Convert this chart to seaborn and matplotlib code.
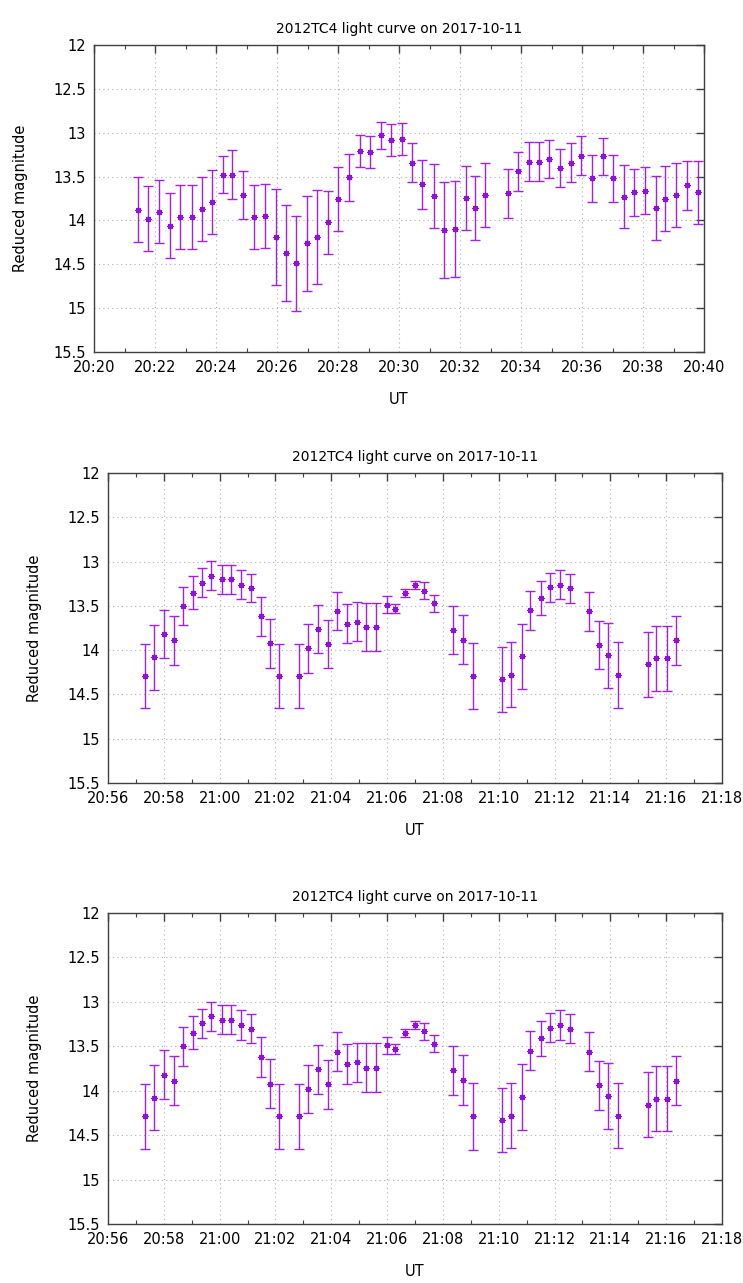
import numpy as np
import pandas as pd
import matplotlib
matplotlib.use("Agg")
import matplotlib.pyplot as plt
import matplotlib.dates as mdates
import seaborn as sns

DATE = "2017-10-11"
TITLE = "2012TC4 light curve on 2017-10-11"
XLABEL = "UT"
YLABEL = "Reduced magnitude"

# ---- Panel 1 data (20:20 - 20:40) ----
times1 = ["20:21:26", "20:21:47", "20:22:08", "20:22:29", "20:22:50", "20:23:12", "20:23:32",
          "20:23:53", "20:24:13", "20:24:32", "20:24:54", "20:25:15", "20:25:36", "20:25:58",
          "20:26:17", "20:26:38", "20:26:59", "20:27:19", "20:27:40", "20:28:00", "20:28:22",
          "20:28:43", "20:29:02", "20:29:24", "20:29:44", "20:30:05", "20:30:26", "20:30:45",
          "20:31:08", "20:31:29", "20:31:50", "20:32:11", "20:32:30", "20:32:50", "20:33:34",
          "20:33:55", "20:34:15", "20:34:36", "20:34:56", "20:35:17", "20:35:39", "20:35:58",
          "20:36:20", "20:36:41", "20:37:01", "20:37:23", "20:37:43", "20:38:04", "20:38:25",
          "20:38:44", "20:39:05", "20:39:26", "20:39:48"]
mag1 = [13.88, 13.98, 13.90, 14.06, 13.96, 13.96, 13.87, 13.79, 13.48, 13.48, 13.71, 13.96,
        13.95, 14.19, 14.37, 14.49, 14.26, 14.19, 14.02, 13.76, 13.51, 13.21, 13.22, 13.03,
        13.08, 13.07, 13.34, 13.59, 13.72, 14.11, 14.10, 13.74, 13.86, 13.71, 13.69, 13.44,
        13.33, 13.33, 13.30, 13.40, 13.34, 13.26, 13.52, 13.27, 13.52, 13.73, 13.68, 13.66,
        13.86, 13.75, 13.71, 13.60, 13.68]
err1 = [0.37, 0.37, 0.36, 0.37, 0.365, 0.365, 0.36, 0.37, 0.21, 0.28, 0.27, 0.365, 0.365,
        0.55, 0.55, 0.54, 0.54, 0.54, 0.36, 0.365, 0.27, 0.18, 0.18, 0.155, 0.18, 0.185,
        0.22, 0.28, 0.365, 0.545, 0.545, 0.365, 0.365, 0.365, 0.28, 0.22, 0.22, 0.22, 0.22,
        0.22, 0.22, 0.22, 0.27, 0.21, 0.27, 0.36, 0.27, 0.27, 0.365, 0.365, 0.365, 0.28, 0.36]
xlim1 = ("20:20:00", "20:40:00")

# ---- Panel 2/3 data (20:56 - 21:18) ----
times2 = ["20:57:19", "20:57:39", "20:58:01", "20:58:21", "20:58:42", "20:59:03", "20:59:22",
          "20:59:42", "21:00:05", "21:00:25", "21:00:46", "21:01:07", "21:01:28", "21:01:48",
          "21:02:08", "21:02:50", "21:03:11", "21:03:32", "21:03:53", "21:04:13", "21:04:34",
          "21:04:55", "21:05:14", "21:05:36", "21:05:59", "21:06:18", "21:06:39", "21:06:59",
          "21:07:20", "21:07:41", "21:08:22", "21:08:43", "21:09:04", "21:10:07", "21:10:27",
          "21:10:49", "21:11:08", "21:11:31", "21:11:50", "21:12:11", "21:12:34", "21:13:15",
          "21:13:35", "21:13:55", "21:14:17", "21:15:20", "21:15:39", "21:16:01", "21:16:22"]
mag2 = [14.29, 14.08, 13.82, 13.89, 13.50, 13.35, 13.24, 13.16, 13.20, 13.20, 13.26, 13.30,
        13.62, 13.92, 14.29, 14.29, 13.98, 13.76, 13.93, 13.56, 13.70, 13.68, 13.74, 13.74,
        13.49, 13.53, 13.35, 13.26, 13.33, 13.47, 13.77, 13.88, 14.29, 14.33, 14.28, 14.07,
        13.55, 13.41, 13.29, 13.26, 13.30, 13.56, 13.94, 14.06, 14.28, 14.16, 14.09, 14.09,
        13.89]
err2 = [0.365, 0.367, 0.274, 0.276, 0.218, 0.186, 0.162, 0.164, 0.162, 0.162, 0.164, 0.162,
        0.222, 0.276, 0.363, 0.365, 0.274, 0.274, 0.274, 0.218, 0.224, 0.218, 0.274, 0.274,
        0.096, 0.055, 0.045, 0.045, 0.096, 0.098, 0.274, 0.278, 0.372, 0.365, 0.367, 0.367,
        0.218, 0.196, 0.162, 0.165, 0.164, 0.22, 0.274, 0.367, 0.37, 0.365, 0.367, 0.367,
        0.276]
xlim2 = ("20:56:00", "21:18:00")

ylim = (12.0, 15.5)
yticks = [12, 12.5, 13, 13.5, 14, 14.5, 15, 15.5]
ytick_labels = ["12", "12.5", "13", "13.5", "14", "14.5", "15", "15.5"]

COLOR = "#a020f0"

sns.set_theme(style="white")
plt.rcParams["font.family"] = ["DejaVu Sans"]

W, H = 743, 1283
fig = plt.figure(figsize=(W / 100, H / 100), dpi=100)

def frac(l, r, t, b):
    return [l / W, 1 - b / H, (r - l) / W, (b - t) / H]

panels = [
    (times1, mag1, err1, xlim1, frac(94, 704, 45, 352)),
    (times2, mag2, err2, xlim2, frac(108, 722, 473, 783)),
    (times2, mag2, err2, xlim2, frac(108, 722, 913, 1224)),
]

def to_dt(ts):
    return pd.to_datetime([f"{DATE} {t}" for t in ts])

for times, mags, errs, xlim, rect in panels:
    ax = fig.add_axes(rect)
    df = pd.DataFrame({"t": to_dt(times), "mag": mags, "err": errs})
    ax.errorbar(df["t"], df["mag"], yerr=df["err"], fmt="none", ecolor=COLOR,
                elinewidth=1.0, capsize=3.3, capthick=1.0, zorder=3)
    sns.scatterplot(data=df, x="t", y="mag", ax=ax, marker=(8, 2, 0), s=16,
                    color="#9010e0", linewidth=0.9, edgecolor="#9010e0", zorder=4,
                    legend=False)
    x0, x1 = to_dt(list(xlim))
    ax.set_xlim(x0, x1)
    ax.set_ylim(ylim[1], ylim[0])
    ax.set_yticks(yticks)
    ax.set_yticklabels(ytick_labels)
    ax.xaxis.set_major_locator(mdates.MinuteLocator(byminute=range(0, 60, 2)))
    ax.xaxis.set_minor_locator(mdates.MinuteLocator())
    ax.xaxis.set_major_formatter(mdates.DateFormatter("%H:%M"))
    ax.grid(True, which="major", linestyle=(0, (1, 3)), color="#b0b0b0", linewidth=0.8)
    ax.tick_params(axis="both", which="major", direction="in", length=5.5, width=1.0,
                   color="#404040", top=True, right=True, labelsize=10.5, pad=6,
                   labelcolor="black")
    ax.tick_params(axis="x", which="minor", direction="in", length=3, width=0.8,
                   color="#404040", top=True, bottom=True)
    for sp in ax.spines.values():
        sp.set_color("#404040")
        sp.set_linewidth(1.0)
    ax.set_title(TITLE, fontsize=10, pad=9, color="black")
    ax.set_xlabel(XLABEL, fontsize=10.5, labelpad=12, color="black")
    ax.set_ylabel(YLABEL, fontsize=10.5, labelpad=18, color="black")

fig.savefig("out.png", dpi=100)
